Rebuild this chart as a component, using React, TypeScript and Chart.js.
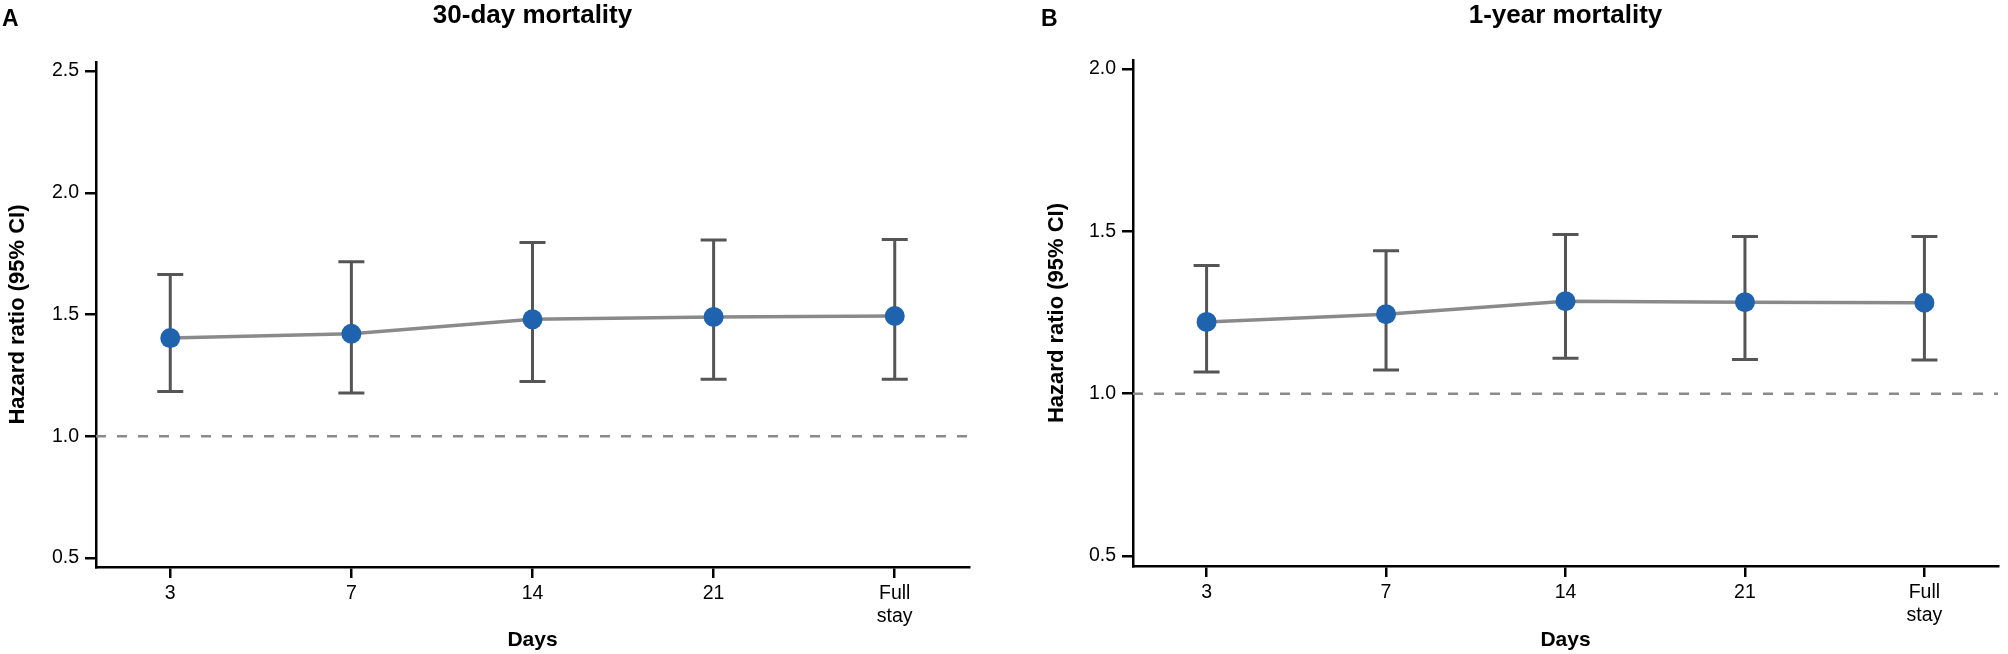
import React, { useEffect, useRef } from 'react';
import { Chart, registerables } from 'chart.js';

Chart.register(...registerables);

const FONT = '"Liberation Sans", Arial, Helvetica, sans-serif';
Chart.defaults.font.family = FONT;
Chart.defaults.color = '#000';

// ---- data ----
const categories = ['3', '7', '14', '21', 'Full stay'];

const hr30 = [1.403, 1.421, 1.48, 1.49, 1.494];
const lower30 = [1.184, 1.178, 1.225, 1.234, 1.234];
const upper30 = [1.664, 1.717, 1.796, 1.806, 1.808];
const yTicks30 = [0.5, 1.0, 1.5, 2.0, 2.5];

const hr1y = [1.221, 1.245, 1.285, 1.282, 1.28];
const lower1y = [1.067, 1.073, 1.109, 1.105, 1.104];
const upper1y = [1.395, 1.44, 1.49, 1.484, 1.484];
const yTicks1y = [0.5, 1.0, 1.5, 2.0];

const referenceHR = 1.0;

const title30 = '30-day mortality';
const title1y = '1-year mortality';
const xTitle = 'Days';
const yTitle = 'Hazard ratio (95% CI)';

// ---- styles ----
const POINT_COLOR = '#1f62ad';
const LINE_COLOR = '#8a8a8a';
const BAR_COLOR = '#555555';
const X_MIN = -0.41;
const X_MAX = 4.41;

interface PanelCfg {
  letter: string;
  title: string;
  hr: number[];
  lower: number[];
  upper: number[];
  yTicks: number[];
  yMin: number;
  yMax: number;
  padLeft: number;
  padRight: number;
  padTop: number;
  xAxisH: number;
  letterX: number;
  yTitlePad: number;
}

function makeErrorBars(lower: number[], upper: number[]) {
  return {
    id: 'errorBars',
    beforeDatasetsDraw(chart: any) {
      const xs = chart.scales.x;
      const ys = chart.scales.y;
      const ctx = chart.ctx as CanvasRenderingContext2D;
      const cap = 13;
      ctx.save();
      ctx.strokeStyle = BAR_COLOR;
      ctx.lineWidth = 3;
      lower.forEach((lo, i) => {
        const x = xs.getPixelForValue(i);
        const y1 = ys.getPixelForValue(lo);
        const y2 = ys.getPixelForValue(upper[i]);
        ctx.beginPath();
        ctx.moveTo(x, y1);
        ctx.lineTo(x, y2);
        ctx.moveTo(x - cap, y1);
        ctx.lineTo(x + cap, y1);
        ctx.moveTo(x - cap, y2);
        ctx.lineTo(x + cap, y2);
        ctx.stroke();
      });
      ctx.restore();
    },
  };
}

function makeHeader(letter: string, title: string, letterX: number) {
  return {
    id: 'header',
    afterDraw(chart: any) {
      const { ctx, chartArea } = chart;
      ctx.save();
      ctx.fillStyle = '#000';
      ctx.textBaseline = 'alphabetic';
      ctx.font = `bold 26px ${FONT}`;
      ctx.textAlign = 'center';
      ctx.fillText(title, (chartArea.left + chartArea.right) / 2, 23);
      ctx.font = `bold 23px ${FONT}`;
      ctx.textAlign = 'left';
      ctx.fillText(letter, letterX, 26);
      ctx.restore();
    },
  };
}

function Panel({ cfg }: { cfg: PanelCfg }) {
  const ref = useRef<HTMLCanvasElement>(null);
  useEffect(() => {
    if (!ref.current) return;
    const chart = new Chart(ref.current, {
      type: 'line',
      data: {
        datasets: [
          {
            data: cfg.hr.map((v, i) => ({ x: i, y: v })),
            borderColor: LINE_COLOR,
            borderWidth: 3.5,
            pointRadius: 10,
            pointBackgroundColor: POINT_COLOR,
            pointBorderWidth: 0,
            tension: 0,
            order: 0,
          },
          {
            data: [
              { x: X_MIN, y: referenceHR },
              { x: X_MAX, y: referenceHR },
            ],
            borderColor: LINE_COLOR,
            borderWidth: 2.5,
            borderDash: [10, 11],
            pointRadius: 0,
            order: 1,
          },
        ],
      },
      options: {
        animation: false,
        responsive: false,
        events: [],
        layout: {
          padding: { left: cfg.padLeft, right: cfg.padRight, top: cfg.padTop, bottom: 0 },
        },
        plugins: {
          legend: { display: false },
          tooltip: { enabled: false },
          title: { display: false },
        },
        scales: {
          x: {
            type: 'linear',
            min: X_MIN,
            max: X_MAX,
            afterBuildTicks: (s: any) => {
              s.ticks = categories.map((_, i) => ({ value: i }));
            },
            afterFit: (s: any) => {
              s.height = cfg.xAxisH;
            },
            ticks: {
              callback: (_v: any, i: number) => categories[i].split(' '),
              font: { size: 19.5 },
              color: '#000',
              padding: 4,
              maxRotation: 0,
              autoSkip: false,
            },
            grid: { drawOnChartArea: false, color: '#000', lineWidth: 2.5, tickLength: 11 },
            border: { display: true, color: '#000', width: 2.5 },
            title: {
              display: true,
              text: xTitle,
              font: { size: 21, weight: 'bold' },
              color: '#000',
              padding: { top: 0, bottom: 1 },
            },
          },
          y: {
            type: 'linear',
            min: cfg.yMin,
            max: cfg.yMax,
            afterBuildTicks: (s: any) => {
              s.ticks = cfg.yTicks.map((v) => ({ value: v }));
            },
            afterFit: (s: any) => {
              s.width = 96;
            },
            ticks: {
              callback: (v: any) => Number(v).toFixed(1),
              font: { size: 19.5 },
              color: '#000',
              padding: 6,
            },
            grid: { drawOnChartArea: false, color: '#000', lineWidth: 2.5, tickLength: 11 },
            border: { display: true, color: '#000', width: 2.5 },
            title: {
              display: true,
              text: yTitle,
              font: { size: 22, weight: 'bold' },
              color: '#000',
              padding: { top: cfg.yTitlePad, bottom: 0 },
            },
          },
        },
      },
      plugins: [makeErrorBars(cfg.lower, cfg.upper), makeHeader(cfg.letter, cfg.title, cfg.letterX)],
    } as any);
    return () => chart.destroy();
  }, [cfg]);
  return (
    <canvas
      ref={ref}
      width={1004}
      height={654}
      style={{ display: 'block', width: 1004, height: 654 }}
    />
  );
}

const panelA: PanelCfg = {
  letter: 'A',
  title: title30,
  hr: hr30,
  lower: lower30,
  upper: upper30,
  yTicks: yTicks30,
  yMin: 0.463,
  yMax: 2.537,
  padLeft: 0,
  padRight: 35,
  padTop: 62,
  xAxisH: 87,
  letterX: 2,
  yTitlePad: 5,
};

const panelB: PanelCfg = {
  letter: 'B',
  title: title1y,
  hr: hr1y,
  lower: lower1y,
  upper: upper1y,
  yTicks: yTicks1y,
  yMin: 0.469,
  yMax: 2.028,
  padLeft: 33,
  padRight: 1,
  padTop: 60,
  xAxisH: 88,
  letterX: 37,
  yTitlePad: 7,
};

export default function App() {
  return (
    <div
      style={{
        position: 'absolute',
        left: 0,
        top: 0,
        width: 2008,
        height: 654,
        display: 'flex',
        background: '#fff',
        overflow: 'hidden',
      }}
    >
      <Panel cfg={panelA} />
      <Panel cfg={panelB} />
    </div>
  );
}
